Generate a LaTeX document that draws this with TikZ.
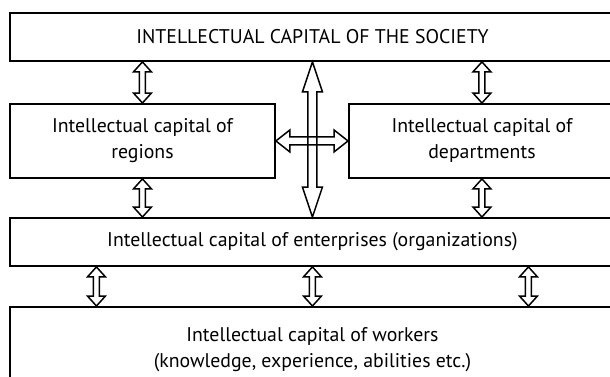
\documentclass[tikz,border=0pt]{standalone}
\usepackage{fontspec}
\setmainfont{PT Sans}
\usetikzlibrary{calc}
% hollow arrow from #1 to #2: head length #3, half head #4, half shaft #5
\newcommand{\hollowarrow}[5]{%
  \coordinate (p1) at ($(#1)!#3!(#2)$);
  \coordinate (p2) at ($(#2)!#3!(#1)$);
  \draw[arrowline] (#1) -- ($(p1)!#4!90:(#2)$) -- ($(p1)!#5!90:(#2)$)
    -- ($(p2)!#5!-90:(#1)$) -- ($(p2)!#4!-90:(#1)$) -- (#2)
    -- ($(p2)!#4!90:(#1)$) -- ($(p2)!#5!90:(#1)$)
    -- ($(p1)!#5!-90:(#2)$) -- ($(p1)!#4!-90:(#2)$) -- cycle;
}
\tikzset{
  box/.style={draw, line width=1.9pt, rectangle, anchor=north west,
    align=center, font=\fontsize{19.8}{26}\selectfont, inner sep=0pt},
  arrowline/.style={line width=1.5pt, line join=miter}
}
\begin{document}
\begin{tikzpicture}[x=1pt, y=-1pt]
      \useasboundingbox (0,0) rectangle (610,376);
      \clip (0,0) rectangle (610,376);
      %
      \node[box, minimum width=605pt, minimum height=48pt] (society) at (9,12)
        {INTELLECTUAL CAPITAL OF THE SOCIETY};
      \node[box, minimum width=265pt, minimum height=74pt] (regions) at (9,103)
        {Intellectual capital of\\regions};
      \node[box, minimum width=266pt, minimum height=74pt] (departments) at (348,103)
        {Intellectual capital of\\departments};
      \node[box, minimum width=605pt, minimum height=48pt] (enterprises) at (9,217)
        {Intellectual capital of enterprises (organizations)};
      \node[box, minimum width=605pt, minimum height=86pt] (workers) at (9,306)
        {Intellectual capital of workers\\(knowledge, experience, abilities etc.)};
      %
      \hollowarrow{society.south -| regions.north}{regions.north}{10pt}{9pt}{3pt}
      \hollowarrow{society.south -| departments.north}{departments.north}{10pt}{9pt}{3pt}
      \hollowarrow{regions.south}{enterprises.north -| regions.south}{10pt}{9pt}{3pt}
      \hollowarrow{departments.south}{enterprises.north -| departments.south}{10pt}{9pt}{3pt}
      %
      \hollowarrow{regions.east}{departments.west}{14pt}{11pt}{4pt}
      \hollowarrow{society.south}{enterprises.north}{30pt}{10pt}{4.5pt}
      %
      \hollowarrow{[xshift=-216pt]enterprises.south}{[xshift=-216pt]workers.north}{10pt}{9pt}{3pt}
      \hollowarrow{enterprises.south}{workers.north}{10pt}{9pt}{3pt}
      \hollowarrow{[xshift=216pt]enterprises.south}{[xshift=216pt]workers.north}{10pt}{9pt}{3pt}
      %
    \end{tikzpicture}
\end{document}
